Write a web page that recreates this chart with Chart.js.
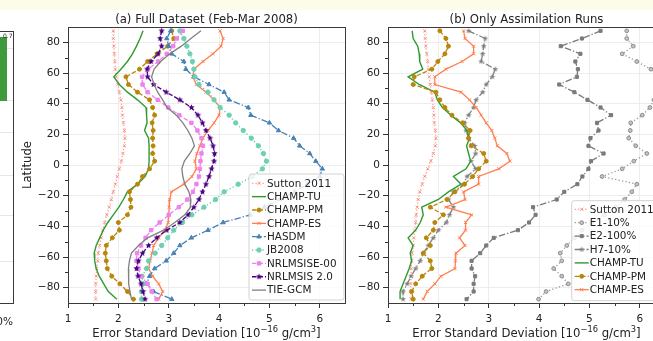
<!DOCTYPE html>
<html>
<head>
<meta charset="utf-8">
<script src="https://cdn.jsdelivr.net/npm/chart.js@4.4.1/dist/chart.umd.min.js"></script>
<style>
  html, body { margin: 0; padding: 0; background: #fff; }
  #page { position: relative; width: 653px; height: 341px; overflow: hidden; background: #fff; }
  #band { position: absolute; left: 0; top: 0; width: 653px; height: 10px; background: #fdfbea; }
  canvas { position: absolute; top: 0; }
  #fragChart { left: -86px; }
  #chartA { left: 0; }
  #chartB { left: 350px; }
</style>
</head>
<body>
<div id="page">
  <div id="band"></div>
  <canvas id="fragChart" width="100" height="341"></canvas>
  <canvas id="chartA" width="350" height="341"></canvas>
  <canvas id="chartB" width="320" height="341"></canvas>
</div>
<script>
// latitude bins (deg), north to south
const latitude = [87.5, 82.5, 77.5, 72.5, 67.5, 62.5, 57.5, 52.5, 47.5, 42.5, 37.5, 32.5,
  27.5, 22.5, 17.5, 12.5, 7.5, 2.5, -2.5, -7.5, -12.5, -17.5, -22.5, -27.5,
  -32.5, -37.5, -42.5, -47.5, -52.5, -57.5, -62.5, -67.5, -72.5, -77.5, -82.5, -87.5];

const errTicks = [1, 2, 3, 4, 5, 6];
const errMinor = [1.5, 2.5, 3.5, 4.5, 5.5];
const latTicks = [-80, -60, -40, -20, 0, 20, 40, 60, 80];
const latMinor = [-70, -50, -30, -10, 10, 30, 50, 70];

// (a) full dataset
const suttonA = [1.90, 1.90, 1.91, 1.92, 1.93, 1.94, 1.96, 1.99, 2.02, 2.05, 2.07, 2.08, 2.10, 2.12, 2.13, 2.12, 2.09, 2.06, 2.02, 1.98, 1.94, 1.90, 1.86, 1.82, 1.77, 1.73, 1.69, 1.66, 1.63, 1.60, 1.59, 1.57, 1.56, 1.55, 1.55, 1.55];
const champTuA = [2.49, 2.43, 2.36, 2.28, 2.18, 2.05, 1.91, 2.02, 2.18, 2.38, 2.55, 2.56, 2.57, 2.52, 2.60, 2.61, 2.61, 2.61, 2.60, 2.53, 2.38, 2.18, 2.10, 2.01, 1.90, 1.79, 1.70, 1.63, 1.56, 1.52, 1.53, 1.56, 1.62, 1.71, 1.80, 1.97];
const champPmA = [3.06, 3.10, 2.98, 2.77, 2.58, 2.42, 2.15, 2.20, 2.38, 2.62, 2.68, 2.72, 2.67, 2.69, 2.68, 2.69, 2.68, 2.72, 2.62, 2.48, 2.38, 2.22, 2.24, 2.25, 2.18, 2.00, 2.02, 1.88, 1.76, 1.74, 1.76, 1.78, 1.87, 2.03, 2.18, 2.30];
const champEsA = [4.02, 4.08, 4.04, 3.88, 3.68, 3.50, 3.48, 3.55, 3.74, 3.90, 4.02, 4.00, 3.90, 3.78, 3.68, 3.62, 3.56, 3.52, 3.55, 3.46, 3.30, 3.05, 3.02, 3.01, 3.00, 2.99, 2.92, 2.80, 2.70, 2.67, 2.63, 2.60, 2.68, 2.80, 2.88, 2.80];
const hasdm = [3.04, 2.96, 3.00, 3.06, 3.30, 3.34, 3.50, 3.80, 4.10, 4.20, 4.58, 4.63, 5.00, 5.18, 5.48, 5.60, 5.80, 5.92, 6.05, 6.00, 5.75, 5.50, 5.20, 4.90, 4.62, 4.08, 3.78, 3.45, 3.22, 3.10, 2.95, 2.72, 2.62, 2.56, 2.70, 3.06];
const jb2008 = [3.22, 3.30, 3.36, 3.42, 3.47, 3.50, 3.52, 3.60, 3.78, 3.90, 4.02, 4.20, 4.33, 4.48, 4.64, 4.78, 4.88, 4.94, 4.86, 4.66, 4.38, 4.10, 3.93, 3.70, 3.46, 3.27, 3.10, 2.98, 2.86, 2.73, 2.60, 2.56, 2.47, 2.49, 2.46, 2.46];
const nrlmsise00 = [3.28, 3.16, 3.09, 2.96, 2.79, 2.59, 2.47, 2.48, 2.58, 2.78, 2.99, 3.21, 3.45, 3.57, 3.65, 3.68, 3.65, 3.63, 3.62, 3.60, 3.55, 3.48, 3.37, 3.20, 3.00, 2.82, 2.65, 2.54, 2.45, 2.37, 2.36, 2.40, 2.45, 2.58, 2.66, 2.76];
const nrlmsis20 = [2.86, 2.83, 2.86, 2.79, 2.65, 2.57, 2.58, 2.70, 2.95, 3.22, 3.45, 3.58, 3.67, 3.74, 3.82, 3.88, 3.91, 3.90, 3.85, 3.80, 3.74, 3.67, 3.60, 3.50, 3.38, 3.22, 2.96, 2.76, 2.60, 2.48, 2.40, 2.36, 2.39, 2.45, 2.49, 2.53];
const tiegcm = [3.64, 3.44, 3.25, 3.02, 2.84, 2.71, 2.66, 2.71, 2.78, 2.88, 2.97, 3.15, 3.28, 3.38, 3.46, 3.51, 3.42, 3.31, 3.26, 3.28, 3.32, 3.40, 3.44, 3.43, 3.32, 3.12, 2.90, 2.58, 2.40, 2.26, 2.22, 2.20, 2.20, 2.21, 2.23, 2.26];

// (b) assimilation runs only
const suttonB = [1.73, 1.74, 1.75, 1.77, 1.79, 1.80, 1.82, 1.84, 1.86, 1.88, 1.90, 1.91, 1.92, 1.94, 1.95, 1.94, 1.90, 1.85, 1.79, 1.73, 1.68, 1.63, 1.60, 1.58, 1.56, 1.55, 1.53, 1.51, 1.50, 1.48, 1.47, 1.46, 1.46, 1.45, 1.45, 1.46];
const e1 = [5.74, 5.74, 5.87, 5.65, 5.94, 6.22, 6.40, 6.45, 6.38, 6.28, 6.20, 6.05, 5.82, 5.81, 5.78, 5.92, 6.14, 5.88, 5.65, 5.25, 5.94, 5.84, 5.70, 5.52, 5.30, 5.05, 4.85, 4.70, 4.55, 4.42, 4.45, 4.29, 4.45, 4.58, 4.14, 3.99];
const e2 = [5.22, 4.85, 4.43, 4.82, 4.72, 4.77, 4.75, 4.40, 4.70, 4.96, 5.22, 5.43, 5.15, 5.18, 5.02, 4.98, 5.28, 5.03, 4.98, 4.86, 4.76, 4.50, 4.35, 3.88, 3.93, 3.80, 3.58, 3.10, 2.95, 2.83, 2.66, 2.66, 2.73, 2.70, 2.70, 2.56];
const h7 = [2.60, 2.93, 2.90, 2.88, 2.85, 3.13, 3.07, 2.95, 2.88, 2.75, 2.70, 2.60, 2.52, 2.55, 2.60, 2.72, 2.74, 2.65, 2.74, 2.57, 2.50, 2.30, 2.20, 2.30, 2.22, 2.16, 2.00, 1.90, 1.80, 1.70, 1.64, 1.55, 1.46, 1.38, 1.30, 1.30];
const champTuB = [1.48, 1.50, 1.59, 1.62, 1.63, 1.69, 1.40, 1.62, 1.93, 1.98, 2.08, 2.25, 2.44, 2.57, 2.62, 2.56, 2.60, 2.64, 2.55, 2.30, 2.45, 2.20, 2.00, 1.67, 1.70, 1.64, 1.55, 1.40, 1.50, 1.44, 1.47, 1.42, 1.36, 1.30, 1.24, 1.24];
const champPmB = [2.03, 2.15, 2.20, 2.13, 1.99, 1.87, 1.52, 1.50, 1.95, 2.03, 2.13, 2.27, 2.48, 2.63, 2.60, 2.65, 2.90, 2.95, 2.80, 2.68, 2.52, 2.33, 2.17, 1.84, 2.10, 1.93, 1.90, 1.76, 1.84, 1.70, 1.84, 1.87, 1.68, 1.55, 1.47, 1.50];
const champEsB = [2.50, 2.53, 2.70, 2.70, 2.47, 2.15, 1.93, 1.93, 2.45, 2.62, 2.75, 2.85, 2.95, 3.06, 3.12, 3.17, 3.36, 3.42, 3.20, 2.80, 2.80, 2.50, 2.53, 2.15, 2.66, 2.54, 2.54, 2.42, 2.53, 2.35, 2.34, 2.33, 2.05, 1.93, 1.78, 1.70];

// neighbouring panel, only its right edge is visible
const fragLabels = ['H7-10%'];
const fragSpan = [[0.743, 0.978]];
const fragGrid = [0.152, 0.32, 0.467, 0.627, 0.743, 0.935];

const FONT = '"DejaVu Sans", sans-serif';
Chart.defaults.font.family = FONT;
Chart.defaults.color = '#222';

function starImage(color, r) {
  const c = document.createElement('canvas');
  const s = Math.ceil(r * 2 + 2);
  c.width = s; c.height = s;
  const g = c.getContext('2d');
  g.fillStyle = color;
  g.beginPath();
  for (let i = 0; i < 10; i++) {
    const rr = i % 2 ? r * 0.45 : r;
    const ang = -Math.PI / 2 + i * Math.PI / 5;
    g.lineTo(s / 2 + rr * Math.cos(ang), s / 2 + rr * Math.sin(ang));
  }
  g.closePath();
  g.fill();
  return c;
}

const DOT = [1.3, 2.2], DASH = [4.5, 2], DASHDOT = [6.5, 2, 1.3, 2];

function series(label, values, st, i) {
  return {
    label,
    data: values.map((v, k) => ({ x: v, y: latitude[k] })),
    showLine: true,
    order: -i,
    borderColor: st.color,
    borderWidth: st.width || 1.3,
    borderDash: st.dash || [],
    pointStyle: st.marker || 'circle',
    pointRadius: st.marker ? (st.size || 2) : 0,
    pointHoverRadius: 0,
    pointBackgroundColor: st.fill || st.color,
    pointBorderColor: st.edge || st.color,
    pointBorderWidth: st.edgeWidth == null ? 1 : st.edgeWidth
  };
}

function drawLegendMarker(ctx, ds, x, y) {
  if (!(ds.pointRadius > 0)) return;
  ctx.setLineDash([]);
  ctx.fillStyle = ds.pointBackgroundColor;
  ctx.strokeStyle = ds.pointBorderColor;
  ctx.lineWidth = ds.pointBorderWidth;
  if (Chart.helpers && Chart.helpers.drawPoint) {
    Chart.helpers.drawPoint(ctx, { pointStyle: ds.pointStyle, radius: ds.pointRadius, borderWidth: ds.pointBorderWidth, rotation: 0 }, x, y);
  } else {
    ctx.beginPath(); ctx.arc(x, y, ds.pointRadius, 0, Math.PI * 2); ctx.fill();
  }
}

const boxLegend = {
  id: 'boxLegend',
  afterDatasetsDraw(chart, args, o) {
    const ctx = chart.ctx;
    const { left, top, width, height } = o;
    ctx.save();
    const r = 2.5;
    ctx.beginPath();
    ctx.moveTo(left + r, top);
    ctx.arcTo(left + width, top, left + width, top + height, r);
    ctx.arcTo(left + width, top + height, left, top + height, r);
    ctx.arcTo(left, top + height, left, top, r);
    ctx.arcTo(left, top, left + width, top, r);
    ctx.closePath();
    ctx.fillStyle = 'rgba(255,255,255,0.82)';
    ctx.fill();
    ctx.strokeStyle = '#d2d2d2';
    ctx.lineWidth = 1;
    ctx.stroke();
    ctx.font = '10.4px ' + FONT;
    ctx.textBaseline = 'middle';
    ctx.textAlign = 'left';
    chart.data.datasets.forEach((ds, i) => {
      const y = top + o.first + i * o.row;
      const x0 = left + 3, x1 = left + 17;
      ctx.setLineDash(ds.borderDash);
      ctx.strokeStyle = ds.borderColor;
      ctx.lineWidth = ds.borderWidth;
      ctx.beginPath(); ctx.moveTo(x0, y); ctx.lineTo(x1, y); ctx.stroke();
      drawLegendMarker(ctx, ds, (x0 + x1) / 2, y);
      ctx.fillStyle = '#222';
      ctx.fillText(ds.label, left + 18, y + 0.5);
    });
    ctx.restore();
  }
};

function drawParts(ctx, parts, cx, baseline) {
  let total = 0;
  parts.forEach(p => { ctx.font = p[1] + 'px ' + FONT; p.w = ctx.measureText(p[0]).width; total += p.w; });
  let x = cx - total / 2;
  ctx.textAlign = 'left';
  ctx.textBaseline = 'alphabetic';
  parts.forEach(p => { ctx.font = p[1] + 'px ' + FONT; ctx.fillText(p[0], x, baseline + p[2]); x += p.w; });
}

const decor = {
  id: 'decor',
  afterDraw(chart, args, o) {
    const { ctx, chartArea: a } = chart;
    const xs = chart.scales.x, ys = chart.scales.y;
    ctx.save();
    ctx.setLineDash([]);
    ctx.strokeStyle = '#333';
    ctx.lineWidth = 1;
    ctx.beginPath();
    latMinor.forEach(v => { const p = Math.round(ys.getPixelForValue(v)) + 0.5; ctx.moveTo(a.left - 3, p); ctx.lineTo(a.left, p); });
    errMinor.forEach(v => { const p = Math.round(xs.getPixelForValue(v)) + 0.5; ctx.moveTo(p, a.bottom); ctx.lineTo(p, a.bottom + 3); });
    ctx.stroke();
    ctx.strokeStyle = '#3a3a3a';
    ctx.strokeRect(Math.round(a.left) + 0.5, Math.round(a.top) + 0.5, Math.round(a.right - a.left), Math.round(a.bottom - a.top));
    ctx.fillStyle = '#222';
    const cx = (a.left + a.right) / 2;
    ctx.font = '11.7px ' + FONT;
    ctx.textAlign = 'center';
    ctx.textBaseline = 'middle';
    ctx.fillText(o.title, cx, 19.5);
    drawParts(ctx, [['Error Standard Deviation [10', 11.7, 0], ['\u221216', 8.3, -4.6], [' g/cm', 11.7, 0], ['3', 8.3, -4.6], [']', 11.7, 0]], cx, 337);
    if (o.yTitle) {
      ctx.save();
      ctx.translate(o.yTitleX, (a.top + a.bottom) / 2);
      ctx.rotate(-Math.PI / 2);
      ctx.font = '11.7px ' + FONT;
      ctx.textAlign = 'center';
      ctx.textBaseline = 'middle';
      ctx.fillText(o.yTitle, 0, 0);
      ctx.restore();
    }
    ctx.restore();
  }
};

function scalesFor(yWidth) {
  return {
    x: {
      type: 'linear', min: 1, max: 6.5,
      afterBuildTicks: s => { s.ticks = errTicks.map(v => ({ value: v })); },
      afterFit: s => { s.height = 38; },
      grid: { color: '#e8e8e8', lineWidth: 0.8, tickColor: '#333', tickLength: 5, tickWidth: 1 },
      border: { display: false },
      ticks: { padding: 5, font: { size: 10.5 }, color: '#222', maxRotation: 0, autoSkip: false, callback: v => String(v) }
    },
    y: {
      type: 'linear', min: -90, max: 90,
      afterBuildTicks: s => { s.ticks = latTicks.map(v => ({ value: v })); },
      afterFit: s => { s.width = yWidth; },
      grid: { color: '#e8e8e8', lineWidth: 0.8, tickColor: '#333', tickLength: 5, tickWidth: 1 },
      border: { display: false },
      ticks: { padding: 3, font: { size: 10.5 }, color: '#222', autoSkip: false, callback: v => v < 0 ? '\u2212' + Math.abs(v) : String(v) }
    }
  };
}

const salmon = 'rgba(250,128,114,0.8)';
const styleA = [
  ['Sutton 2011', suttonA, { color: salmon, dash: DOT, marker: 'crossRot', size: 2.3, width: 1.2 }],
  ['CHAMP-TU', champTuA, { color: '#2f9a2f', width: 1.4 }],
  ['CHAMP-PM', champPmA, { color: '#b8860b', dash: DASH, marker: 'circle', size: 2 }],
  ['CHAMP-ES', champEsA, { color: '#ff7f50', marker: 'crossRot', size: 2.2 }],
  ['HASDM', hasdm, { color: '#4682b4', dash: DASHDOT, marker: 'triangle', size: 2.5 }],
  ['JB2008', jb2008, { color: '#6fcfb2', dash: DOT, marker: 'circle', size: 2.2, width: 1.4 }],
  ['NRLMSISE-00', nrlmsise00, { color: '#ee82ee', dash: DASH, marker: 'rect', size: 2.4 }],
  ['NRLMSIS 2.0', nrlmsis20, { color: '#4b0082', dash: DASH, marker: starImage('#4b0082', 3.3), size: 2.5 }],
  ['TIE-GCM', tiegcm, { color: '#808080', width: 1.3 }]
];
const styleB = [
  ['Sutton 2011', suttonB, { color: salmon, dash: DOT, marker: 'crossRot', size: 2.3, width: 1.2 }],
  ['E1-10%', e1, { color: '#9a9a9a', dash: DOT, marker: 'circle', size: 1.9, fill: '#c4c4c4', edge: '#8c8c8c' }],
  ['E2-100%', e2, { color: '#7a7a7a', dash: DASHDOT, marker: 'rect', size: 2.2 }],
  ['H7-10%', h7, { color: '#808080', dash: DASHDOT, marker: starImage('#808080', 3), size: 2.2 }],
  ['CHAMP-TU', champTuB, { color: '#2f9a2f', width: 1.4 }],
  ['CHAMP-PM', champPmB, { color: '#b8860b', dash: DASH, marker: 'circle', size: 2 }],
  ['CHAMP-ES', champEsB, { color: '#ff7f50', marker: 'crossRot', size: 2.2 }]
];

function panel(id, styles, yWidth, deco, legend) {
  return new Chart(document.getElementById(id), {
    type: 'scatter',
    data: { datasets: styles.map((s, i) => series(s[0], s[1], s[2], i)) },
    options: {
      responsive: false,
      animation: false,
      events: [],
      layout: { padding: { top: 27, right: 5, left: 0, bottom: 0 } },
      scales: scalesFor(yWidth),
      plugins: { legend: { display: false }, tooltip: { enabled: false }, decor: deco, boxLegend: legend }
    },
    plugins: [decor, boxLegend]
  });
}

panel('chartA', styleA, 68,
  { title: '(a) Full Dataset (Feb-Mar 2008)', yTitle: 'Latitude', yTitleX: 28 },
  { left: 249, top: 174, width: 95, height: 126, first: 9.3, row: 13.35 });
panel('chartB', styleB, 38,
  { title: '(b) Only Assimilation Runs' },
  { left: 221.7, top: 200.7, width: 96, height: 100, first: 8.6, row: 13.4 });

const fragDecor = {
  id: 'fragDecor',
  afterDraw(chart) {
    const { ctx, chartArea: a } = chart;
    ctx.save();
    ctx.strokeStyle = '#3a3a3a';
    ctx.lineWidth = 1;
    ctx.strokeRect(Math.round(a.left) + 0.5, Math.round(a.top) + 0.5, Math.round(a.right - a.left) - 1, Math.round(a.bottom - a.top));
    ctx.fillStyle = '#222';
    ctx.textAlign = 'right';
    ctx.font = '6px ' + FONT;
    ctx.textBaseline = 'top';
    ctx.fillText('0.7', a.right - 1.5, a.top + 2);
    ctx.font = '10.5px ' + FONT;
    ctx.textBaseline = 'middle';
    ctx.fillText('100%', a.right - 1, 322);
    ctx.restore();
  }
};

new Chart(document.getElementById('fragChart'), {
  type: 'bar',
  data: { labels: fragLabels, datasets: [{ data: fragSpan, backgroundColor: '#3d9a3d', barPercentage: 0.86, categoryPercentage: 1 }] },
  options: {
    responsive: false,
    animation: false,
    events: [],
    layout: { padding: { top: 31, right: 0, left: 0, bottom: 0 } },
    plugins: { legend: { display: false }, tooltip: { enabled: false } },
    scales: {
      x: { grid: { display: false }, ticks: { display: false }, border: { display: false }, afterFit: s => { s.height = 38; } },
      y: {
        min: 0, max: 1,
        afterBuildTicks: s => { s.ticks = fragGrid.map(v => ({ value: v })); },
        grid: { color: '#e6e6e6', drawTicks: false },
        border: { display: false },
        ticks: { display: false },
        afterFit: s => { s.width = 0; }
      }
    }
  },
  plugins: [fragDecor]
});
</script>
</body>
</html>
